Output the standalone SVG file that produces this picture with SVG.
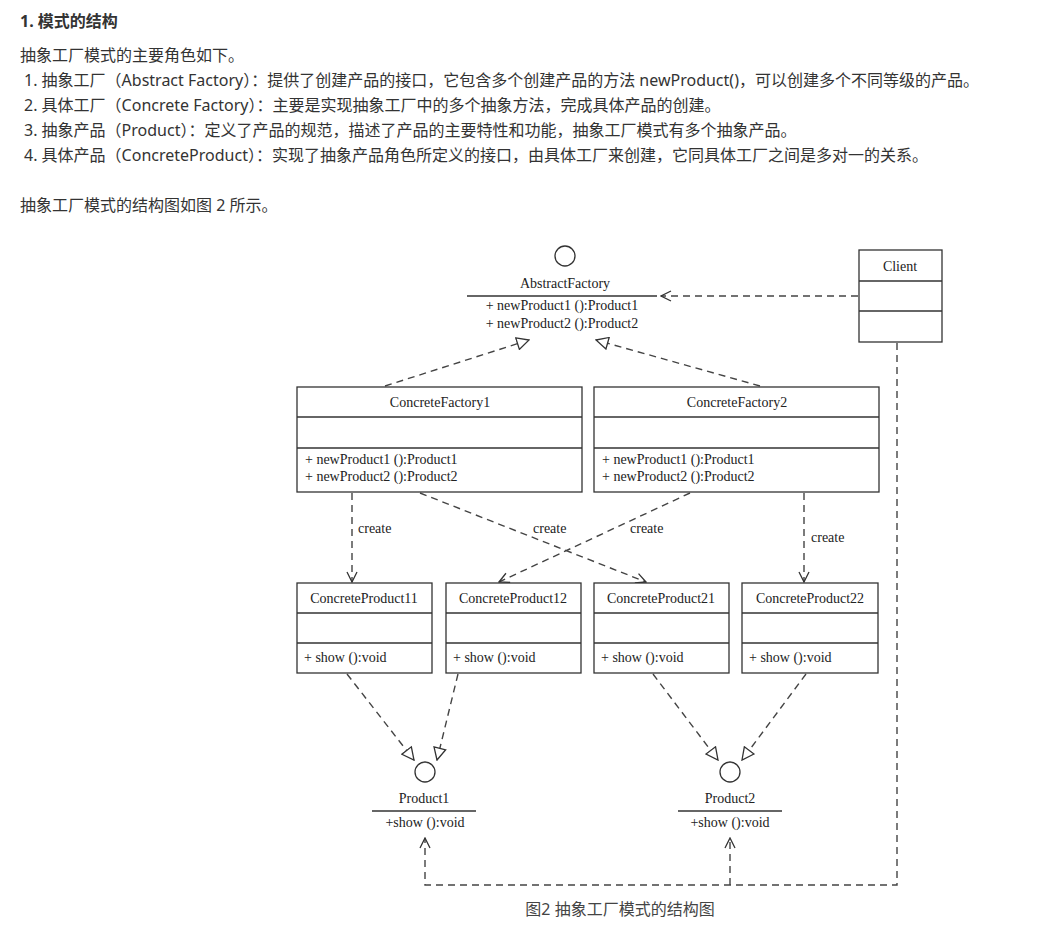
<svg xmlns="http://www.w3.org/2000/svg" width="1037" height="929" viewBox="0 0 1037 929">
<style>
.t{font-family:"Noto Sans","Noto Sans CJK SC",sans-serif;font-size:16px;fill:#333}
.d{font-family:"Liberation Serif",serif;font-size:14px;fill:#222}
.b{fill:#fff;stroke:#333;stroke-width:1.3}
.l{stroke:#333;stroke-width:1.3;fill:none}
.da{stroke:#444;stroke-width:1.4;fill:none;stroke-dasharray:7,5}
</style>
<defs>
<marker id="open" markerWidth="12" markerHeight="12" refX="11" refY="6" orient="auto" markerUnits="userSpaceOnUse"><path d="M1,1 L11,6 L1,11" fill="none" stroke="#333" stroke-width="1.3"/></marker>
<marker id="tri" markerWidth="14" markerHeight="14" refX="13" refY="7" orient="auto" markerUnits="userSpaceOnUse"><path d="M1,1 L13,7 L1,13 Z" fill="#fff" stroke="#333" stroke-width="1.3"/></marker>
</defs>
<rect width="1037" height="929" fill="#fff"/>
<text class="t" x="20" y="27" style="font-weight:bold">1. 模式的结构</text>
<text class="t" x="20" y="61">抽象工厂模式的主要角色如下。</text>
<text class="t" x="24" y="86">1. 抽象工厂（Abstract Factory）：提供了创建产品的接口，它包含多个创建产品的方法 newProduct()，可以创建多个不同等级的产品。</text>
<text class="t" x="24" y="111">2. 具体工厂（Concrete Factory）：主要是实现抽象工厂中的多个抽象方法，完成具体产品的创建。</text>
<text class="t" x="24" y="136">3. 抽象产品（Product）：定义了产品的规范，描述了产品的主要特性和功能，抽象工厂模式有多个抽象产品。</text>
<text class="t" x="24" y="161">4. 具体产品（ConcreteProduct）：实现了抽象产品角色所定义的接口，由具体工厂来创建，它同具体工厂之间是多对一的关系。</text>
<text class="t" x="20" y="211">抽象工厂模式的结构图如图 2 所示。</text>

<g id="connectors">
<line class="da" x1="858" y1="296" x2="661" y2="296" marker-end="url(#open)"/>
<line class="da" x1="385" y1="386" x2="529" y2="340" marker-end="url(#tri)"/>
<line class="da" x1="760" y1="386" x2="596" y2="340" marker-end="url(#tri)"/>
<line class="da" x1="352" y1="493" x2="352" y2="582" marker-end="url(#open)"/>
<line class="da" x1="420" y1="493" x2="646" y2="582" marker-end="url(#open)"/>
<line class="da" x1="690" y1="493" x2="499" y2="582" marker-end="url(#open)"/>
<line class="da" x1="804" y1="493" x2="804" y2="582" marker-end="url(#open)"/>
<line class="da" x1="347" y1="674" x2="414" y2="760" marker-end="url(#tri)"/>
<line class="da" x1="458" y1="674" x2="437" y2="760" marker-end="url(#tri)"/>
<line class="da" x1="653" y1="674" x2="718" y2="760" marker-end="url(#tri)"/>
<line class="da" x1="806" y1="674" x2="742" y2="760" marker-end="url(#tri)"/>
<polyline class="da" points="897,343 897,885 425,885 425,838" marker-end="url(#open)"/>
<line class="da" x1="730" y1="885" x2="730" y2="838" marker-end="url(#open)"/>
<text class="d" x="358" y="533">create</text>
<text class="d" x="533" y="533">create</text>
<text class="d" x="630" y="533">create</text>
<text class="d" x="811" y="542">create</text>
</g>

<g id="AbstractFactory">
<circle class="b" cx="565" cy="256" r="10"/>
<text class="d" x="565" y="288" text-anchor="middle">AbstractFactory</text>
<line class="l" x1="467" y1="296" x2="657" y2="296"/>
<text class="d" x="562" y="310" text-anchor="middle">+ newProduct1 ():Product1</text>
<text class="d" x="562" y="328" text-anchor="middle">+ newProduct2 ():Product2</text>
</g>
<g id="Client">
<rect class="b" x="859" y="250" width="83" height="92"/>
<line class="l" x1="859" y1="281" x2="942" y2="281"/>
<line class="l" x1="859" y1="311" x2="942" y2="311"/>
<text class="d" x="900" y="271" text-anchor="middle">Client</text>
</g>
<g id="ConcreteFactory1">
<rect class="b" x="297" y="387" width="285" height="105"/>
<line class="l" x1="297" y1="417" x2="582" y2="417"/>
<line class="l" x1="297" y1="448" x2="582" y2="448"/>
<text class="d" x="440" y="407" text-anchor="middle">ConcreteFactory1</text>
<text class="d" x="305" y="464">+ newProduct1 ():Product1</text>
<text class="d" x="305" y="481">+ newProduct2 ():Product2</text>
</g>
<g id="ConcreteFactory2">
<rect class="b" x="594" y="387" width="285" height="105"/>
<line class="l" x1="594" y1="417" x2="879" y2="417"/>
<line class="l" x1="594" y1="448" x2="879" y2="448"/>
<text class="d" x="737" y="407" text-anchor="middle">ConcreteFactory2</text>
<text class="d" x="602" y="464">+ newProduct1 ():Product1</text>
<text class="d" x="602" y="481">+ newProduct2 ():Product2</text>
</g>
<g id="ConcreteProduct11">
<rect class="b" x="297" y="583" width="135" height="90"/>
<line class="l" x1="297" y1="613" x2="432" y2="613"/><line class="l" x1="297" y1="643" x2="432" y2="643"/>
<text class="d" x="364" y="603" text-anchor="middle">ConcreteProduct11</text>
<text class="d" x="304" y="662">+ show ():void</text>
</g>
<g id="ConcreteProduct12">
<rect class="b" x="446" y="583" width="135" height="90"/>
<line class="l" x1="446" y1="613" x2="581" y2="613"/><line class="l" x1="446" y1="643" x2="581" y2="643"/>
<text class="d" x="513" y="603" text-anchor="middle">ConcreteProduct12</text>
<text class="d" x="453" y="662">+ show ():void</text>
</g>
<g id="ConcreteProduct21">
<rect class="b" x="594" y="583" width="135" height="90"/>
<line class="l" x1="594" y1="613" x2="729" y2="613"/><line class="l" x1="594" y1="643" x2="729" y2="643"/>
<text class="d" x="661" y="603" text-anchor="middle">ConcreteProduct21</text>
<text class="d" x="601" y="662">+ show ():void</text>
</g>
<g id="ConcreteProduct22">
<rect class="b" x="742" y="583" width="136" height="90"/>
<line class="l" x1="742" y1="613" x2="878" y2="613"/><line class="l" x1="742" y1="643" x2="878" y2="643"/>
<text class="d" x="810" y="603" text-anchor="middle">ConcreteProduct22</text>
<text class="d" x="749" y="662">+ show ():void</text>
</g>
<g id="Product1">
<circle class="b" cx="425" cy="772" r="10"/>
<text class="d" x="424" y="803" text-anchor="middle">Product1</text>
<line class="l" x1="372" y1="811" x2="476" y2="811"/>
<text class="d" x="425" y="827" text-anchor="middle">+show ():void</text>
</g>
<g id="Product2">
<circle class="b" cx="730" cy="772" r="10"/>
<text class="d" x="730" y="803" text-anchor="middle">Product2</text>
<line class="l" x1="678" y1="811" x2="782" y2="811"/>
<text class="d" x="730" y="827" text-anchor="middle">+show ():void</text>
</g>
<text x="620" y="915" text-anchor="middle" style="font-family:'Noto Sans','Noto Sans CJK SC',sans-serif;font-size:16px;fill:#444">图2 抽象工厂模式的结构图</text>
</svg>
